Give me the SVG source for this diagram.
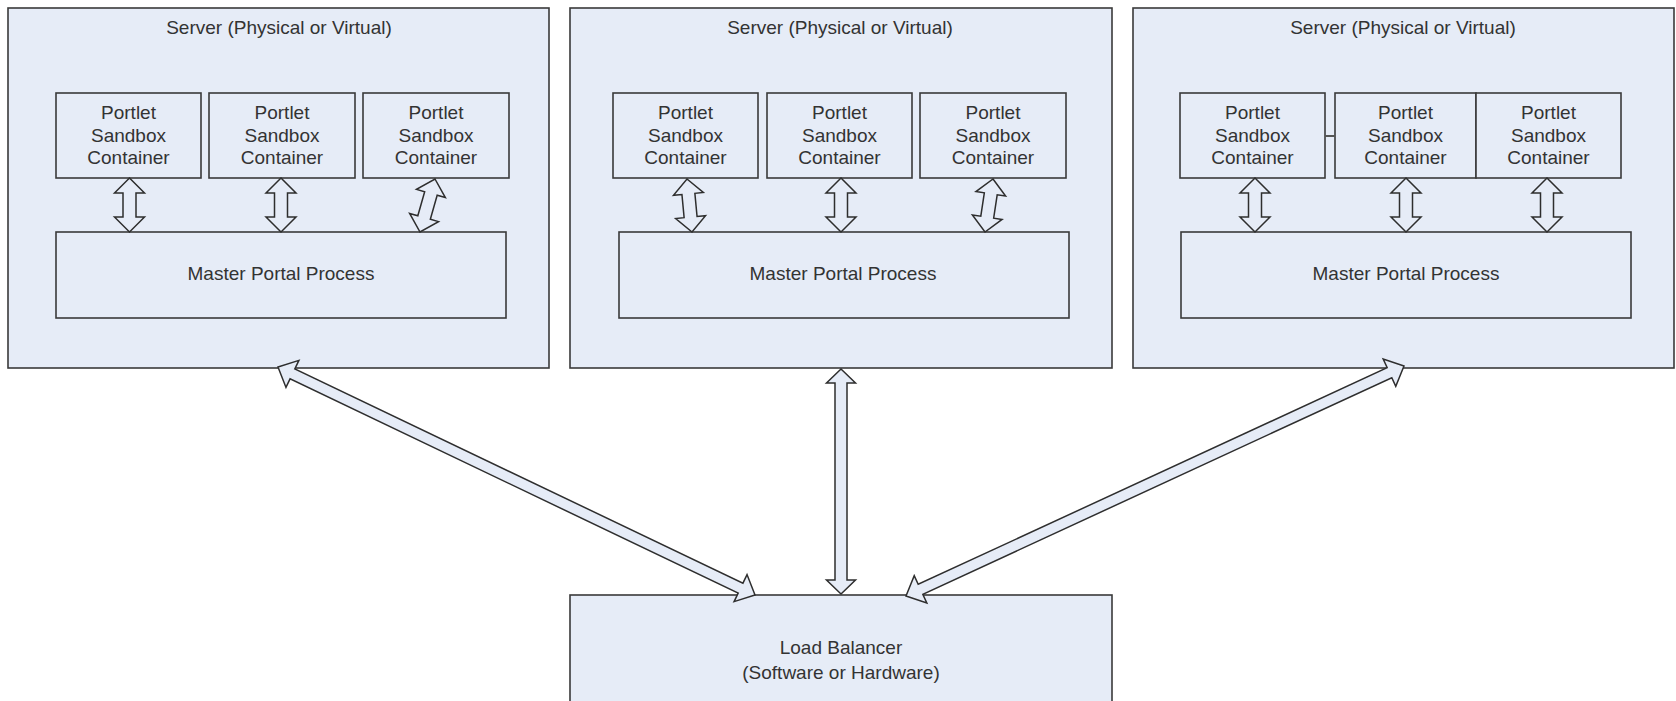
<svg xmlns="http://www.w3.org/2000/svg" xmlns:xlink="http://www.w3.org/1999/xlink" width="1676" height="701" viewBox="0 0 1676 701">
<style>
.box{fill:#E6ECF7;stroke:#3a3a3a;stroke-width:1.6}
.arr{fill:#E6ECF7;stroke:#2e2e2e;stroke-width:1.5;stroke-linejoin:miter}
.t{font-family:"Liberation Sans",Arial,sans-serif;font-size:19px;fill:#333;text-anchor:middle}
.ln{stroke:#555;stroke-width:2;fill:none}
</style>
<defs>
<polygon id="va" points="0,0 15,15 6.5,15 6.5,39 15,39 0,54 -15,39 -6.5,39 -6.5,15 -15,15"/>
</defs>
<rect width="1676" height="701" fill="#ffffff"/>

<g id="server1">
<rect class="box" x="8" y="8" width="541" height="360"/>
<text class="t" x="279" y="34">Server (Physical or Virtual)</text>
</g>
<g id="server2">
<rect class="box" x="570" y="8" width="542" height="360"/>
<text class="t" x="840" y="34">Server (Physical or Virtual)</text>
</g>
<g id="server3">
<rect class="box" x="1133" y="8" width="541" height="360"/>
<text class="t" x="1403" y="34">Server (Physical or Virtual)</text>
</g>

<g id="s1p1"><rect class="box" x="56" y="93" width="145" height="85"/><text class="t" x="128.5" y="119">Portlet</text><text class="t" x="128.5" y="142">Sandbox</text><text class="t" x="128.5" y="164">Container</text></g>
<g id="s1p2"><rect class="box" x="209" y="93" width="146" height="85"/><text class="t" x="282" y="119">Portlet</text><text class="t" x="282" y="142">Sandbox</text><text class="t" x="282" y="164">Container</text></g>
<g id="s1p3"><rect class="box" x="363" y="93" width="146" height="85"/><text class="t" x="436" y="119">Portlet</text><text class="t" x="436" y="142">Sandbox</text><text class="t" x="436" y="164">Container</text></g>
<g id="s1m"><rect class="box" x="56" y="232" width="450" height="86"/><text class="t" x="281" y="280">Master Portal Process</text></g>

<g id="s2p1"><rect class="box" x="613" y="93" width="145" height="85"/><text class="t" x="685.5" y="119">Portlet</text><text class="t" x="685.5" y="142">Sandbox</text><text class="t" x="685.5" y="164">Container</text></g>
<g id="s2p2"><rect class="box" x="767" y="93" width="145" height="85"/><text class="t" x="839.5" y="119">Portlet</text><text class="t" x="839.5" y="142">Sandbox</text><text class="t" x="839.5" y="164">Container</text></g>
<g id="s2p3"><rect class="box" x="920" y="93" width="146" height="85"/><text class="t" x="993" y="119">Portlet</text><text class="t" x="993" y="142">Sandbox</text><text class="t" x="993" y="164">Container</text></g>
<g id="s2m"><rect class="box" x="619" y="232" width="450" height="86"/><text class="t" x="843" y="280">Master Portal Process</text></g>

<g id="s3p1"><rect class="box" x="1180" y="93" width="145" height="85"/><text class="t" x="1252.5" y="119">Portlet</text><text class="t" x="1252.5" y="142">Sandbox</text><text class="t" x="1252.5" y="164">Container</text></g>
<g id="s3p2"><rect class="box" x="1335" y="93" width="141" height="85"/><text class="t" x="1405.5" y="119">Portlet</text><text class="t" x="1405.5" y="142">Sandbox</text><text class="t" x="1405.5" y="164">Container</text></g>
<g id="s3p3"><rect class="box" x="1476" y="93" width="145" height="85"/><text class="t" x="1548.5" y="119">Portlet</text><text class="t" x="1548.5" y="142">Sandbox</text><text class="t" x="1548.5" y="164">Container</text></g>
<g id="s3m"><rect class="box" x="1181" y="232" width="450" height="86"/><text class="t" x="1406" y="280">Master Portal Process</text></g>

<g id="lb">
<rect class="box" x="570" y="595" width="542" height="130"/>
<text class="t" x="841" y="654">Load Balancer</text>
<text class="t" x="841" y="679">(Software or Hardware)</text>
</g>

<g id="connectors">
<line class="ln" x1="1325" y1="136" x2="1335" y2="136"/>
<use href="#va" xlink:href="#va" class="arr" x="129.5" y="178"/>
<use href="#va" xlink:href="#va" class="arr" x="281" y="178"/>
<polygon class="arr" points="435,179 445.35,197.51 437.17,195.2 430.33,219.34 438.51,221.65 420,232 409.65,213.49 417.83,215.8 424.67,191.66 416.49,189.35"/>
<polygon class="arr" points="687,179 703.34,192.52 694.88,193.32 697.06,216.46 705.52,215.66 692,232 675.66,218.48 684.12,217.68 681.94,194.54 673.48,195.34"/>
<use href="#va" xlink:href="#va" class="arr" x="841" y="178"/>
<polygon class="arr" points="993,179 1005.59,196.07 997.19,194.8 993.67,218.14 1002.07,219.41 985,232 972.41,214.93 980.81,216.2 984.33,192.86 975.93,191.59"/>
<use href="#va" xlink:href="#va" class="arr" x="1255" y="178"/>
<use href="#va" xlink:href="#va" class="arr" x="1406" y="178"/>
<use href="#va" xlink:href="#va" class="arr" x="1547" y="178"/>

<polygon class="arr" points="278,367 298.91,360.37 294.81,368.94 742.93,583.14 747.03,574.57 755,595 734.09,601.63 738.19,593.06 290.07,378.86 285.97,387.43"/>
<polygon class="arr" points="841,369 855.5,383 847,383 847,580 855.5,580 841,594 826.5,580 835,580 835,383 826.5,383"/>
<polygon class="arr" points="1404,366 1395.77,386.33 1391.79,377.7 922.83,594.28 926.81,602.91 906,596 914.23,575.67 918.21,584.3 1387.17,367.72 1383.19,359.09"/>
</g>
</svg>
